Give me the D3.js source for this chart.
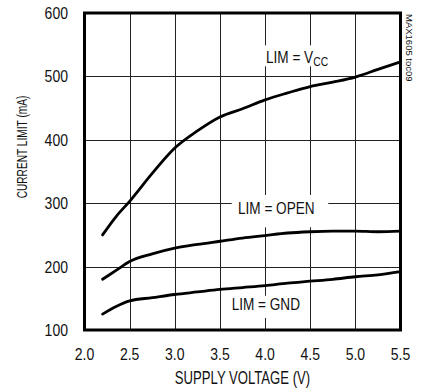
<!DOCTYPE html>
<html><head><meta charset="utf-8">
<script src="https://cdn.jsdelivr.net/npm/d3@7"></script>
<style>
body{margin:0;background:#fff;}
svg text{font-family:"Liberation Sans",Arial,sans-serif;fill:#111;}
</style></head>
<body><svg id="c" width="421" height="390"></svg>
<script>
const voltage = [2.2, 2.35, 2.5, 2.75, 3.0, 3.25, 3.5, 3.75, 4.0, 4.25, 4.5, 4.75, 5.0, 5.25, 5.5];
const limVcc  = [250, 279, 303, 347, 387, 414, 436, 449, 463, 474, 484, 491, 499, 511, 523];
const limOpen = [180, 194, 208, 220, 229, 235, 240, 245, 249, 253, 255, 256, 256, 255, 256];
const limGnd  = [125, 137, 146, 151, 156, 160, 164, 167, 170, 174, 177, 180, 184, 187, 192];
const xTicks = [2.0, 2.5, 3.0, 3.5, 4.0, 4.5, 5.0, 5.5];
const yTicks = [100, 200, 300, 400, 500, 600];
const xTitle = "SUPPLY VOLTAGE (V)";
const yTitle = "CURRENT LIMIT (mA)";
const seriesLabels = ["LIM = V", "LIM = OPEN", "LIM = GND"];

const svg = d3.select("#c");
const L = 84.5, R = 400.5, T = 13, B = 330;
const x = d3.scaleLinear().domain([2, 5.5]).range([L, R]);
const y = d3.scaleLinear().domain([100, 600]).range([B, T]);

function ctext(px, py, str, size, sx, anchor, rot) {
  const g = svg.append("g")
    .attr("transform", `translate(${px},${py})` + (rot ? ` rotate(${rot})` : "") + ` scale(${sx},1)`);
  return g.append("text").attr("font-size", size).attr("text-anchor", anchor || "start").text(str);
}

// grid
svg.selectAll(".vg").data(xTicks.slice(1, -1)).join("line")
  .attr("x1", d => Math.round(x(d)) + 0.5).attr("x2", d => Math.round(x(d)) + 0.5)
  .attr("y1", T).attr("y2", B).attr("stroke", "#222").attr("stroke-width", 1);
svg.selectAll(".hg").data(yTicks.slice(1, -1)).join("line")
  .attr("y1", d => Math.round(y(d)) + 0.5).attr("y2", d => Math.round(y(d)) + 0.5)
  .attr("x1", L).attr("x2", R).attr("stroke", "#222").attr("stroke-width", 1);

// label backgrounds (in data units)
const bg = [
  {x0: 3.97, x1: 4.77, m0: 549, m1: 516},
  {x0: 3.63, x1: 4.70, m0: 313, m1: 262},
  {x0: 3.57, x1: 4.45, m0: 154, m1: 119}
];
svg.selectAll(".bg").data(bg).join("rect")
  .attr("x", d => x(d.x0)).attr("width", d => x(d.x1) - x(d.x0))
  .attr("y", d => y(d.m0)).attr("height", d => y(d.m1) - y(d.m0))
  .attr("fill", "#fff");

// curves
const line = d3.line().x(d => x(d[0])).y(d => y(d[1])).curve(d3.curveMonotoneX);
[limVcc, limOpen, limGnd].forEach(s => {
  svg.append("path").attr("d", line(voltage.map((v, i) => [v, s[i]])))
    .attr("fill", "none").attr("stroke", "#000").attr("stroke-width", 2.8)
    .attr("stroke-linecap", "round");
});

// series labels
const lpos = [[4.01, 521], [3.70, 283.5], [3.63, 131.5]];
seriesLabels.forEach((s, i) => {
  const t = ctext(x(lpos[i][0]), y(lpos[i][1]), s, 17, 0.8);
  if (i === 0) t.append("tspan").attr("font-size", 13).attr("dy", 2.5).text("CC");
});

// frame
svg.append("rect").attr("x", L).attr("y", T).attr("width", R - L).attr("height", B - T)
  .attr("fill", "none").attr("stroke", "#000").attr("stroke-width", 3);

// tick labels
xTicks.forEach(d => ctext(x(d), 360, d.toFixed(1), 16.5, 0.85, "middle"));
yTicks.forEach(d => ctext(68, y(d) + 6, String(d), 16.5, 0.85, "end"));
ctext((L + R) / 2, 384, xTitle, 17.5, 0.75, "middle");
ctext(26.5, 147, yTitle, 14.5, 0.7, "middle", -90);
ctext(405.5, 14, "MAX1605 toc09", 9.5, 1, "start", 90);
</script></body></html>
